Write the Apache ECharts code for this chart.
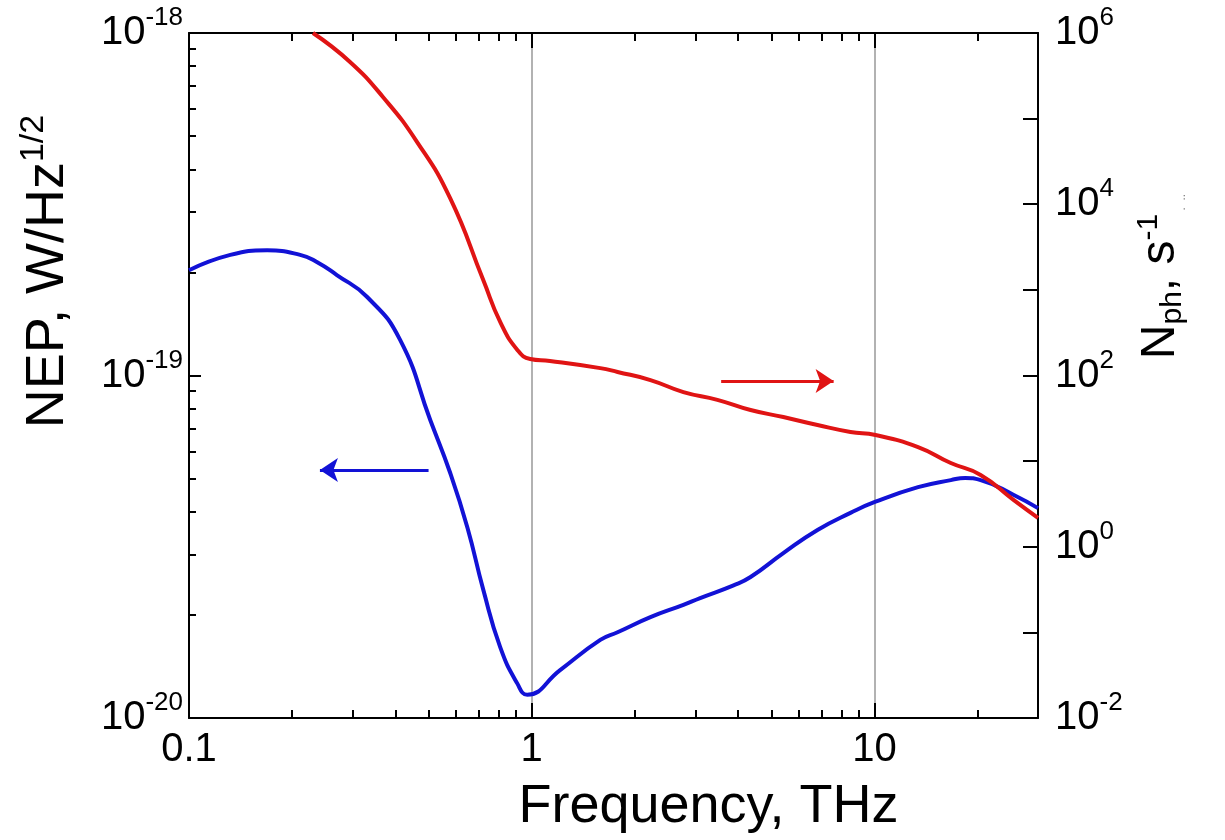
<!DOCTYPE html>
<html>
<head>
<meta charset="utf-8">
<script src="https://cdn.jsdelivr.net/npm/echarts@6/dist/echarts.min.js"></script>
<style>
    html, body { margin: 0; padding: 0; background: #fff; }
    #chart { width: 1225px; height: 840px; }
</style>
</head>
<body>
<div id="chart"></div>
<script type="text/javascript">
    // NEP curve (left axis), blue
    var freqNep = [0.1, 0.132, 0.169, 0.211, 0.236, 0.27, 0.331, 0.413, 0.506, 0.578, 0.649, 0.722, 0.809, 0.908, 0.97,
        1.21, 1.585, 1.78, 2.22, 2.77, 3.1, 3.88, 4.35, 5.42, 6.82, 8.51, 10.07, 13.4, 16.7, 18.4, 20.4, 25.5, 30];
    var nep = [2.03e-19, 2.25e-19, 2.32e-19, 2.25e-19, 2.145e-19, 1.965e-19, 1.695e-19, 1.27e-19, 7.4e-20, 5.2e-20, 3.6e-20, 2.37e-20, 1.61e-20, 1.26e-20, 1.17e-20,
        1.38e-20, 1.69e-20, 1.78e-20, 1.97e-20, 2.14e-20, 2.24e-20, 2.44e-20, 2.58e-20, 3.03e-20, 3.54e-20, 3.97e-20, 4.28e-20, 4.72e-20, 4.95e-20, 5.02e-20, 4.95e-20, 4.48e-20, 4.1e-20];

    // photon number curve (right axis), red
    var freqNph = [0.23, 0.295, 0.368, 0.463, 0.578, 0.722, 0.809, 0.908, 0.99, 1.13, 1.585, 1.78, 2.22, 2.77, 3.48,
        4.35, 5.42, 6.82, 8.51, 10.07, 13.4, 16.7, 20.4, 25.5, 30];
    var nph = [1e6, 4.59e5, 1.79e5, 5.33e4, 1.18e4, 1.3e3, 422, 199, 156, 148, 122, 110, 88.5, 64, 52,
        39.5, 32.7, 26.4, 21.9, 20.2, 14.6, 9.5, 6.9, 3.5, 2.17];

    // arrows (start, end)
    var arrowNep = [[0.5, 5.3e-20], [0.241, 5.3e-20]];
    var arrowNph = [[3.57, 86], [7.6, 86]];

    var FONT = 'Liberation Sans';
    var BLUE = '#1212d6';
    var RED = '#e01414';

    // minor tick positions (2..9 of each decade), in log10 units
    function minorTicks(d0, d1, maxLog) {
        var out = [];
        for (var d = d0; d < d1; d++) {
            for (var k = 2; k <= 9; k++) {
                var v = d + Math.log10(k);
                if (v <= maxLog + 1e-9) out.push(v);
            }
        }
        return out;
    }
    var xMaxLog = Math.log10(30);

    function pow10Label(v) {
        var e = Math.round(Math.log10(+v));
        return '{b|10}{s|' + e + '}';
    }
    var powRich = {
        b: { fontSize: 40, fontFamily: FONT, color: '#000' },
        s: { fontSize: 26, fontFamily: FONT, color: '#000', verticalAlign: 'top', padding: [0, 0, 30, 0] }
    };

    // thin strips along the top and bottom edges; their split lines are the x ticks
    function stripGrid(top, h) { return { left: 189, right: 187, top: top, height: h, containLabel: false }; }
    function tickAxis(grid, type, extra) {
        var ax = {
            gridIndex: grid, type: type, min: type === 'log' ? 0.1 : -1, max: type === 'log' ? 30 : xMaxLog,
            position: 'bottom',
            axisLine: { show: false, onZero: false }, axisLabel: { show: false },
            axisTick: { show: false },
            splitLine: { show: true, lineStyle: { color: '#000', width: 2 } }
        };
        return Object.assign(ax, extra || {});
    }
    var minorX = minorTicks(-1, 2, xMaxLog);

    var myChart = echarts.init(document.getElementById('chart'));
    var option = {
        animation: false,
        grid: [
            { left: 189, right: 187, top: 33, bottom: 122, containLabel: false },
            stripGrid(703, 15),
            stripGrid(710, 8),
            stripGrid(33, 15),
            stripGrid(33, 8)
        ],
        xAxis: [
            {
                gridIndex: 0, type: 'log', min: 0.1, max: 30, position: 'bottom',
                name: 'Frequency, THz', nameLocation: 'middle', nameGap: 62,
                nameTextStyle: { fontSize: 54, fontFamily: FONT, color: '#000', padding: [0, 0, 0, 190] },
                axisLine: { onZero: false, lineStyle: { color: '#000', width: 2 } },
                axisTick: { show: false },
                axisLabel: {
                    fontSize: 40, fontFamily: FONT, color: '#000', margin: 12, showMaxLabel: false,
                    formatter: function (v) { return String(+(+v).toPrecision(3)); }
                },
                splitLine: { show: true, lineStyle: { color: '#999', width: 1.5 } }
            },
            tickAxis(1, 'log'),
            tickAxis(2, 'value', { axisTick: { show: false, customValues: minorX } }),
            tickAxis(3, 'log', { position: 'top', axisLine: { show: true, onZero: false, lineStyle: { color: '#000', width: 2 } } }),
            tickAxis(4, 'value', { axisTick: { show: false, customValues: minorX } })
        ],
        yAxis: [
            {
                gridIndex: 0, type: 'log', min: 1e-20, max: 1e-18, position: 'left',
                name: '{t|NEP, W/Hz}{s|1/2}', nameLocation: 'middle', nameRotate: 90, nameGap: 110,
                nameTextStyle: {
                    padding: [0, 0, 0, 208],
                    rich: {
                        t: { fontSize: 54, fontFamily: FONT, color: '#000' },
                        s: { fontSize: 34, fontFamily: FONT, color: '#000', verticalAlign: 'top', padding: [0, 0, 28, 0] }
                    }
                },
                axisLine: { onZero: false, lineStyle: { color: '#000', width: 2 } },
                axisTick: { show: true, inside: true, length: 12, lineStyle: { color: '#000', width: 2 } },
                axisLabel: { margin: 6, formatter: pow10Label, rich: powRich },
                splitLine: { show: false }
            },
            {
                gridIndex: 0, type: 'value', min: -20, max: -18, position: 'left',
                axisLine: { show: false, onZero: false }, axisLabel: { show: false }, splitLine: { show: false },
                axisTick: { show: true, inside: true, length: 7, lineStyle: { color: '#000', width: 2 }, customValues: minorTicks(-20, -18, -18) }
            },
            {
                gridIndex: 0, type: 'log', min: 0.01, max: 1e6, position: 'right',
                name: '{t|N}{sub|ph}{t|, s}{s|-1}{d| .  ..}', nameLocation: 'middle', nameRotate: 90, nameGap: 95,
                nameTextStyle: {
                    padding: [0, 0, 0, 198],
                    rich: {
                        t: { fontSize: 48, fontFamily: FONT, color: '#000' },
                        sub: { fontSize: 30, fontFamily: FONT, color: '#000', verticalAlign: 'bottom', padding: [24, 0, 0, 0] },
                        s: { fontSize: 30, fontFamily: FONT, color: '#000', verticalAlign: 'top', padding: [0, 0, 24, 0] },
                        d: { fontSize: 12, fontFamily: FONT, color: '#888', verticalAlign: 'bottom', padding: [30, 0, 0, 0] }
                    }
                },
                axisLine: { onZero: false, lineStyle: { color: '#000', width: 2 } },
                axisTick: { show: true, inside: true, length: 15, lineStyle: { color: '#000', width: 2 } },
                axisLabel: {
                    margin: 17, rich: powRich,
                    formatter: function (v) {
                        var e = Math.round(Math.log10(+v));
                        return e % 2 === 0 ? pow10Label(v) : '';
                    }
                },
                splitLine: { show: false }
            },
            { gridIndex: 1, type: 'value', min: 0, max: 1, show: false },
            { gridIndex: 2, type: 'value', min: 0, max: 1, show: false },
            { gridIndex: 3, type: 'value', min: 0, max: 1, show: false },
            { gridIndex: 4, type: 'value', min: 0, max: 1, show: false }
        ],
        series: [
            {
                name: 'NEP', type: 'line', xAxisIndex: 0, yAxisIndex: 0,
                data: freqNep.map(function (f, i) { return [f, nep[i]]; }),
                showSymbol: false, smooth: 0.5,
                lineStyle: { color: BLUE, width: 4 }, itemStyle: { color: BLUE },
                markLine: {
                    silent: true, symbol: ['none', 'arrow'], symbolSize: 18,
                    label: { show: false },
                    lineStyle: { color: BLUE, width: 3, type: 'solid' },
                    data: [[{ coord: arrowNep[0] }, { coord: arrowNep[1] }]]
                }
            },
            {
                name: 'Nph', type: 'line', xAxisIndex: 0, yAxisIndex: 2,
                data: freqNph.map(function (f, i) { return [f, nph[i]]; }),
                showSymbol: false, smooth: 0.5,
                lineStyle: { color: RED, width: 4 }, itemStyle: { color: RED },
                markLine: {
                    silent: true, symbol: ['none', 'arrow'], symbolSize: 18,
                    label: { show: false },
                    lineStyle: { color: RED, width: 3, type: 'solid' },
                    data: [[{ coord: arrowNph[0] }, { coord: arrowNph[1] }]]
                }
            }
        ]
    };
    myChart.setOption(option, true);
</script>
</body>
</html>
